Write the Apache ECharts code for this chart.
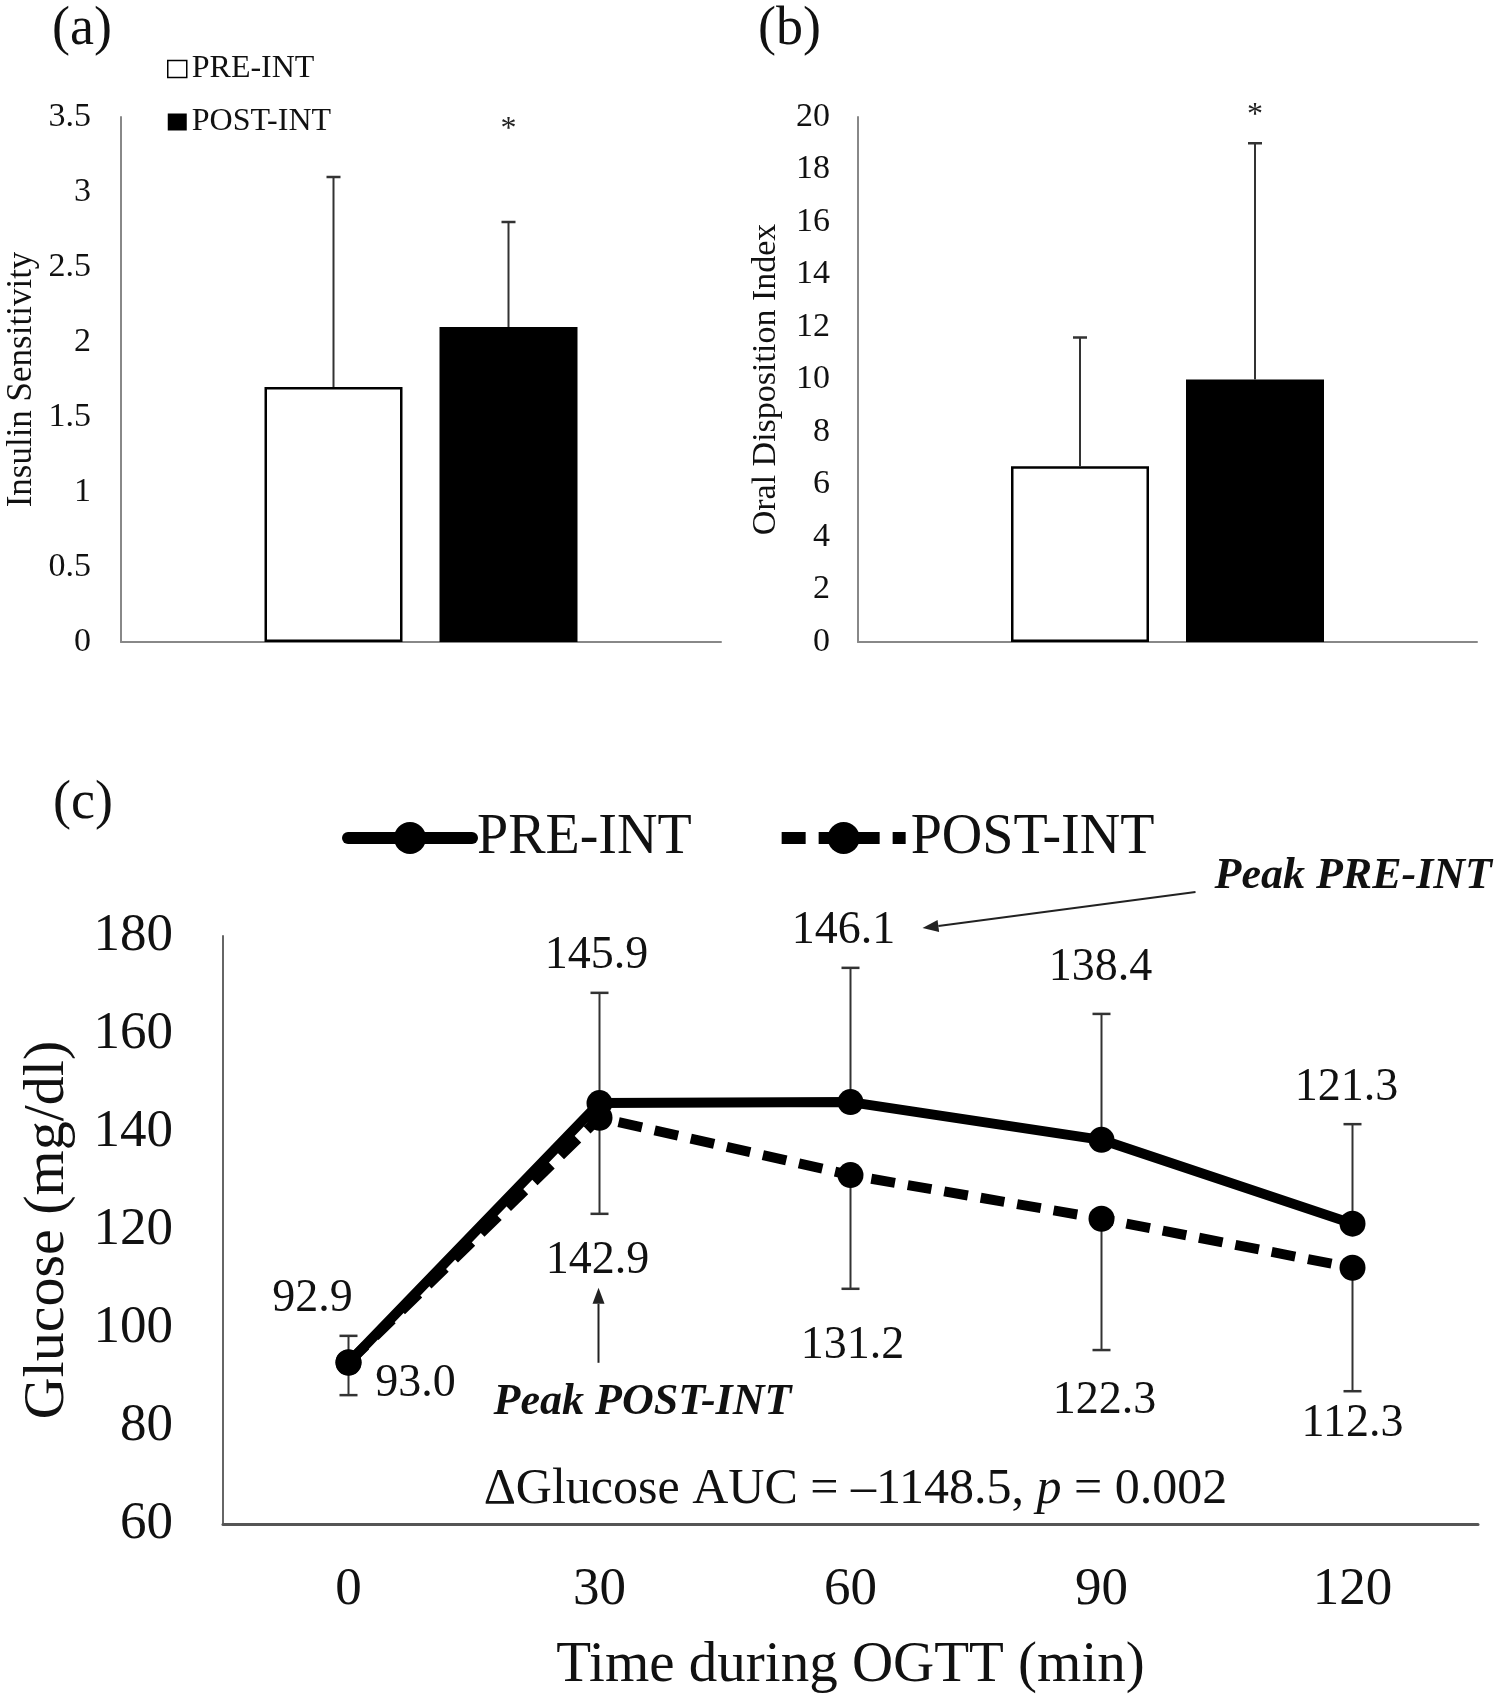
<!DOCTYPE html>
<html><head><meta charset="utf-8">
<script src="https://cdn.jsdelivr.net/npm/echarts@6/dist/echarts.min.js"></script>
<style>html,body{margin:0;padding:0;background:#fff}#c{width:1500px;height:1707px}</style>
</head><body><div id="c"></div>
<script>
const FONT = '"Liberation Serif","Times New Roman",serif';

// ---- Panel (a): Insulin sensitivity ----
const groups = ['PRE-INT', 'POST-INT'];
const insulinMean = [1.7, 2.1];
const insulinSD = [1.4, 0.7];
// ---- Panel (b): Oral disposition index ----
const odiMean = [6.7, 10.0];
const odiSD = [4.9, 9.0];
// ---- Panel (c): Glucose during OGTT ----
const timeLabels = ['0', '30', '60', '90', '120'];
const glucosePre = [92.9, 145.9, 146.1, 138.4, 121.3];
const glucosePreSD = [5.5, 22.5, 27.4, 25.7, 20.3];
const glucosePost = [93.0, 142.9, 131.2, 122.3, 112.3];
const glucosePostSD = [6.7, 19.6, 23.2, 26.8, 25.2];

// label placement (style only)
const preLblOff = [[-36, -64], [-3, -147], [-7, -171], [-1, -172], [-6, -136]];
const postLblOff = [[67, 22], [-2, 143], [2, 171], [3, 182], [0, 156]];

const BAR_W = 138, BAR_GAP = 37, BAR_OFF = (BAR_W + BAR_GAP) / 2;

function barErrRender(starDy) {
  return function (params, api) {
    const i = api.value(3);
    const base = api.coord([0, api.value(1)]);
    const top = api.coord([0, api.value(1) + api.value(2)]);
    const x = base[0] + (i === 0 ? -BAR_OFF : BAR_OFF);
    const ch = [
      {type: 'line', shape: {x1: x, y1: base[1], x2: x, y2: top[1]}, style: {stroke: '#333', lineWidth: 2}},
      {type: 'line', shape: {x1: x - 7, y1: top[1], x2: x + 7, y2: top[1]}, style: {stroke: '#333', lineWidth: 2.5}}
    ];
    if (i === 1) {
      ch.push({type: 'text', x: x, y: params.coordSys.y + starDy,
        style: {text: '*', fontSize: 32, fontFamily: FONT, fill: '#222', align: 'center', verticalAlign: 'middle'}});
    }
    return {type: 'group', children: ch};
  };
}
function lineErrRender(params, api) {
  const p = api.coord([api.value(0), api.value(1)]);
  const e = api.coord([api.value(0), api.value(2)]);
  return {type: 'group', children: [
    {type: 'line', shape: {x1: p[0], y1: p[1], x2: e[0], y2: e[1]}, style: {stroke: '#333', lineWidth: 2}},
    {type: 'line', shape: {x1: e[0] - 9, y1: e[1], x2: e[0] + 9, y2: e[1]}, style: {stroke: '#333', lineWidth: 2.5}}
  ]};
}

const tickLabel = (size, margin) => ({fontSize: size, fontFamily: FONT, color: '#111', margin: margin});

const chart = echarts.init(document.getElementById('c'), null, {renderer: 'canvas'});
const option = {
  animation: false,
  backgroundColor: '#fff',
  textStyle: {fontFamily: FONT},
  grid: [
    {left: 121, top: 117, width: 600, height: 525},
    {left: 858, top: 117, width: 619, height: 525},
    {left: 223, top: 936, width: 1255, height: 588}
  ],
  legend: [
    {
      orient: 'vertical', left: 162, top: 48, itemGap: 21, itemWidth: 19, itemHeight: 17,
      data: [
        {name: groups[0], icon: 'rect', itemStyle: {color: '#fff', borderColor: '#000', borderWidth: 1.5}},
        {name: groups[1], icon: 'rect', itemStyle: {color: '#000', borderWidth: 0}}
      ],
      textStyle: {fontSize: 32, fontFamily: FONT, color: '#111'},
      selectedMode: false
    },
    {
      left: 337, top: 805, itemGap: 84, itemWidth: 124, itemHeight: 40,
      data: groups,
      lineStyle: {width: 12},
      textStyle: {fontSize: 56, fontFamily: FONT, color: '#111'},
      selectedMode: false
    }
  ],
  xAxis: [
    {gridIndex: 0, type: 'category', data: [''], axisTick: {show: false}, axisLabel: {show: false},
      axisLine: {lineStyle: {color: '#888', width: 2}}},
    {gridIndex: 1, type: 'category', data: [''], axisTick: {show: false}, axisLabel: {show: false},
      axisLine: {lineStyle: {color: '#888', width: 2}}},
    {gridIndex: 2, type: 'category', data: timeLabels, axisTick: {show: false},
      axisLabel: tickLabel(53, 40),
      axisLine: {lineStyle: {color: '#555', width: 3}},
      name: 'Time during OGTT (min)', nameLocation: 'middle', nameGap: 114,
      nameTextStyle: {fontSize: 57, fontFamily: FONT, color: '#111'}}
  ],
  yAxis: [
    {gridIndex: 0, type: 'value', min: 0, max: 3.5, interval: 0.5,
      axisLine: {show: true, lineStyle: {color: '#888', width: 2}}, axisTick: {show: false}, splitLine: {show: false},
      axisLabel: tickLabel(34, 30),
      name: 'Insulin Sensitivity', nameLocation: 'middle', nameRotate: 90, nameGap: 82,
      nameTextStyle: {fontSize: 35, fontFamily: FONT, color: '#111'}},
    {gridIndex: 1, type: 'value', min: 0, max: 20, interval: 2,
      axisLine: {show: true, lineStyle: {color: '#888', width: 2}}, axisTick: {show: false}, splitLine: {show: false},
      axisLabel: tickLabel(34, 28),
      name: 'Oral Disposition Index', nameLocation: 'middle', nameRotate: 90, nameGap: 75,
      nameTextStyle: {fontSize: 34, fontFamily: FONT, color: '#111'}},
    {gridIndex: 2, type: 'value', min: 60, max: 180, interval: 20,
      axisLine: {show: true, lineStyle: {color: '#666', width: 2}}, axisTick: {show: false}, splitLine: {show: false},
      axisLabel: tickLabel(53, 50),
      name: 'Glucose (mg/dl)', nameLocation: 'middle', nameRotate: 90, nameGap: 146,
      nameTextStyle: {fontSize: 58, fontFamily: FONT, color: '#111'}}
  ],
  series: [
    // Panel (c) lines (first so the line legend takes the line icon)
    {name: groups[0], type: 'line', xAxisIndex: 2, yAxisIndex: 2, z: 5,
      data: glucosePre.map((v, i) => ({value: v, label: {offset: preLblOff[i]}})),
      symbol: 'circle', symbolSize: 26,
      lineStyle: {color: '#000', width: 10, cap: 'round'}, itemStyle: {color: '#000'},
      label: {show: true, position: 'inside', formatter: p => p.value.toFixed(1),
        fontSize: 46, fontFamily: FONT, color: '#111'}},
    {name: groups[1], type: 'line', xAxisIndex: 2, yAxisIndex: 2, z: 4,
      data: glucosePost.map((v, i) => ({value: v, label: {offset: postLblOff[i]}})),
      symbol: 'circle', symbolSize: 26,
      lineStyle: {color: '#000', width: 10, type: [24, 13]}, itemStyle: {color: '#000'},
      label: {show: true, position: 'inside', formatter: p => p.value.toFixed(1),
        fontSize: 46, fontFamily: FONT, color: '#111'}},
    {type: 'custom', xAxisIndex: 2, yAxisIndex: 2, z: 3, renderItem: lineErrRender,
      data: glucosePre.map((v, i) => [i, v, v + glucosePreSD[i]])},
    {type: 'custom', xAxisIndex: 2, yAxisIndex: 2, z: 3, renderItem: lineErrRender,
      data: glucosePost.map((v, i) => [i, v, v - glucosePostSD[i]])},
    // Panel (a)
    {name: groups[0], type: 'bar', xAxisIndex: 0, yAxisIndex: 0, data: [insulinMean[0]],
      barWidth: BAR_W, barGap: (BAR_GAP / BAR_W * 100) + '%',
      itemStyle: {color: '#fff', borderColor: '#000', borderWidth: 2.5}},
    {name: groups[1], type: 'bar', xAxisIndex: 0, yAxisIndex: 0, data: [insulinMean[1]],
      barWidth: BAR_W, barGap: (BAR_GAP / BAR_W * 100) + '%',
      itemStyle: {color: '#000', borderColor: '#000', borderWidth: 2.5}},
    {type: 'custom', xAxisIndex: 0, yAxisIndex: 0, z: 4, renderItem: barErrRender(13),
      data: groups.map((g, i) => [0, insulinMean[i], insulinSD[i], i])},
    // Panel (b)
    {name: groups[0], type: 'bar', xAxisIndex: 1, yAxisIndex: 1, data: [odiMean[0]],
      barWidth: BAR_W, barGap: (BAR_GAP / BAR_W * 100) + '%',
      itemStyle: {color: '#fff', borderColor: '#000', borderWidth: 2.5}},
    {name: groups[1], type: 'bar', xAxisIndex: 1, yAxisIndex: 1, data: [odiMean[1]],
      barWidth: BAR_W, barGap: (BAR_GAP / BAR_W * 100) + '%',
      itemStyle: {color: '#000', borderColor: '#000', borderWidth: 2.5}},
    {type: 'custom', xAxisIndex: 1, yAxisIndex: 1, z: 4, renderItem: barErrRender(-1),
      data: groups.map((g, i) => [0, odiMean[i], odiSD[i], i])}
  ]
};
chart.setOption(option);

// ---- annotations anchored to data points ----
function px(i, v) { return chart.convertToPixel({xAxisIndex: 2, yAxisIndex: 2}, [i, v]); }
function arrow(x1, y1, x2, y2) {
  const a = Math.atan2(y2 - y1, x2 - x1), L = 16, W = 6;
  const bx = x2 - L * Math.cos(a), by = y2 - L * Math.sin(a);
  const nx = -Math.sin(a) * W, ny = Math.cos(a) * W;
  return [
    {type: 'line', shape: {x1: x1, y1: y1, x2: bx, y2: by}, style: {stroke: '#222', lineWidth: 2}},
    {type: 'polygon', shape: {points: [[x2, y2], [bx + nx, by + ny], [bx - nx, by - ny]]}, style: {fill: '#222'}}
  ];
}
const iPre = glucosePre.indexOf(Math.max(...glucosePre));
const iPost = glucosePost.indexOf(Math.max(...glucosePost));
const pPre = px(iPre, glucosePre[iPre]);
const pPost = px(iPost, glucosePost[iPost]);
const g = grid => chart.getModel().getComponent('grid', grid).coordinateSystem.getRect();
const gc = g(2);
const panelTxt = (t, x, y) => ({type: 'text', x: x, y: y,
  style: {text: t, fontSize: 54, fontFamily: FONT, fill: '#111', align: 'left', verticalAlign: 'middle'}});

chart.setOption({graphic: [
  panelTxt('(a)', 52, 30),
  panelTxt('(b)', 758, 30),
  panelTxt('(c)', 53, 804),
  ...arrow(pPre[0] + 345, pPre[1] - 210, pPre[0] + 72, pPre[1] - 174),
  {type: 'text', x: pPre[0] + 364, y: pPre[1] - 225,
    style: {text: 'Peak PRE-INT', fontSize: 44, fontFamily: FONT, fontWeight: 'bold', fontStyle: 'italic',
      fill: '#111', align: 'left', verticalAlign: 'middle'}},
  ...arrow(pPost[0] - 1, pPost[1] + 245, pPost[0] - 1, pPost[1] + 170),
  {type: 'text', x: pPost[0] + 43, y: pPost[1] + 285,
    style: {text: 'Peak POST-INT', fontSize: 44, fontFamily: FONT, fontWeight: 'bold', fontStyle: 'italic',
      fill: '#111', align: 'center', verticalAlign: 'middle'}},
  {type: 'text', x: gc.x + gc.width * 0.5 + 5, y: gc.y + gc.height - 34,
    style: {text: '{n|\u0394Glucose AUC = \u20131148.5, }{i|p}{n| = 0.002}',
      align: 'center', verticalAlign: 'middle',
      rich: {n: {fontSize: 50, fontFamily: FONT, fill: '#111'},
             i: {fontSize: 50, fontFamily: FONT, fontStyle: 'italic', fill: '#111'}}}}
]});
</script>
</body></html>
